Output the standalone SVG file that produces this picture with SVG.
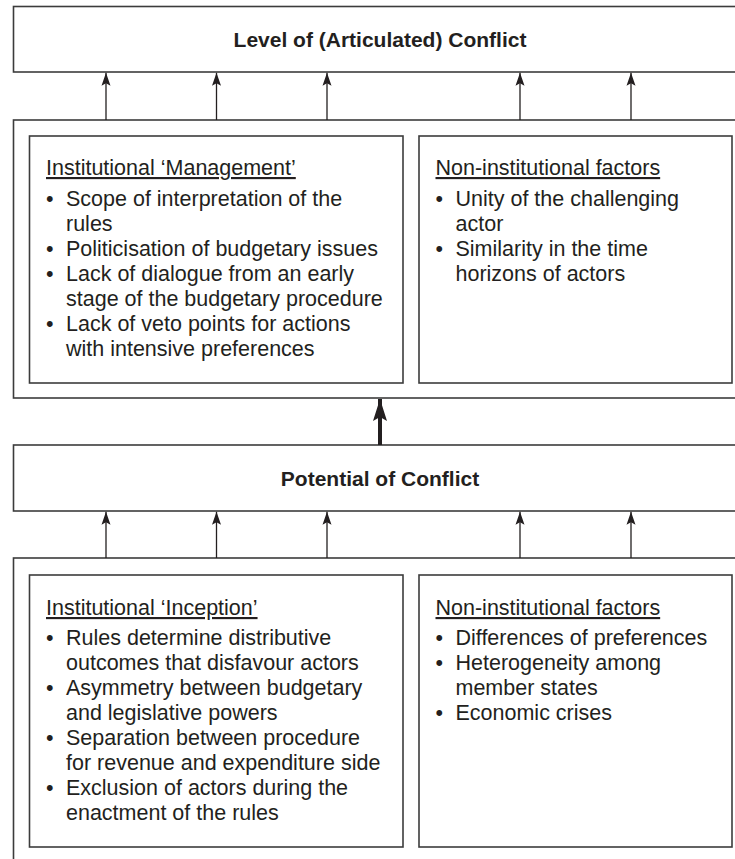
<svg xmlns="http://www.w3.org/2000/svg" width="735" height="859" viewBox="0 0 735 859">
  <style>
    .box { fill: #ffffff; stroke: #3c3c3c; stroke-width: 1.6; }
    .title { font-family: "Liberation Sans", Arial, sans-serif; font-weight: bold; font-size: 21px; fill: #231f20; text-anchor: middle; }
    .txt { font-family: "Liberation Sans", Arial, sans-serif; font-size: 21.5px; fill: #231f20; }
    .head { text-decoration: underline; }
    .link { stroke: #231f20; stroke-width: 1.3; fill: none; }
    .thick { stroke: #231f20; stroke-width: 4; fill: none; }
  </style>
  <defs>
    <marker id="arrow" markerUnits="userSpaceOnUse" viewBox="-14 -6 16 12" refX="0" refY="0" markerWidth="16" markerHeight="12" orient="auto">
      <path d="M0,0 L-13,-4.5 L-10.5,0 L-13,4.5 Z" fill="#231f20"/>
    </marker>
    <marker id="arrowBig" markerUnits="userSpaceOnUse" viewBox="-24 -9 26 18" refX="0" refY="0" markerWidth="26" markerHeight="18" orient="auto">
      <path d="M0,0 L-22,-7 L-18,0 L-22,7 Z" fill="#231f20"/>
    </marker>
  </defs>

  <rect width="735" height="859" fill="#ffffff"/>

  <!-- outcome box -->
  <g id="level-of-conflict">
    <rect class="box" x="13.5" y="6.5" width="740" height="65.5"/>
    <text class="title" x="380" y="47">Level of (Articulated) Conflict</text>
  </g>

  <!-- upper factor panel -->
  <g id="management-panel">
    <rect class="box" x="13.5" y="120" width="740" height="278"/>
  </g>
  <g id="institutional-management">
    <rect class="box" x="29.5" y="136" width="373.5" height="247"/>
    <text class="txt head" x="46" y="175">Institutional ‘Management’</text>
    <text class="txt" y="206"><tspan x="46">•</tspan><tspan x="66">Scope of interpretation of the</tspan></text>
    <text class="txt" x="66" y="231">rules</text>
    <text class="txt" y="256"><tspan x="46">•</tspan><tspan x="66">Politicisation of budgetary issues</tspan></text>
    <text class="txt" y="281"><tspan x="46">•</tspan><tspan x="66">Lack of dialogue from an early</tspan></text>
    <text class="txt" x="66" y="306">stage of the budgetary procedure</text>
    <text class="txt" y="331"><tspan x="46">•</tspan><tspan x="66">Lack of veto points for actions</tspan></text>
    <text class="txt" x="66" y="356">with intensive preferences</text>
  </g>
  <g id="non-institutional-upper">
    <rect class="box" x="419" y="136" width="313" height="247"/>
    <text class="txt head" x="435.5" y="175">Non-institutional factors</text>
    <text class="txt" y="206"><tspan x="435.5">•</tspan><tspan x="455.5">Unity of the challenging</tspan></text>
    <text class="txt" x="455.5" y="231">actor</text>
    <text class="txt" y="256"><tspan x="435.5">•</tspan><tspan x="455.5">Similarity in the time</tspan></text>
    <text class="txt" x="455.5" y="281">horizons of actors</text>
  </g>

  <!-- potential box -->
  <g id="potential-of-conflict">
    <rect class="box" x="13.5" y="445" width="740" height="66"/>
    <text class="title" x="380" y="486">Potential of Conflict</text>
  </g>

  <!-- lower factor panel -->
  <g id="inception-panel">
    <rect class="box" x="13.5" y="558" width="740" height="320"/>
  </g>
  <g id="institutional-inception">
    <rect class="box" x="29.5" y="575" width="373.5" height="272"/>
    <text class="txt head" x="46" y="615">Institutional ‘Inception’</text>
    <text class="txt" y="645"><tspan x="46">•</tspan><tspan x="66">Rules determine distributive</tspan></text>
    <text class="txt" x="66" y="670">outcomes that disfavour actors</text>
    <text class="txt" y="695"><tspan x="46">•</tspan><tspan x="66">Asymmetry between budgetary</tspan></text>
    <text class="txt" x="66" y="720">and legislative powers</text>
    <text class="txt" y="745"><tspan x="46">•</tspan><tspan x="66">Separation between procedure</tspan></text>
    <text class="txt" x="66" y="770">for revenue and expenditure side</text>
    <text class="txt" y="795"><tspan x="46">•</tspan><tspan x="66">Exclusion of actors during the</tspan></text>
    <text class="txt" x="66" y="820">enactment of the rules</text>
  </g>
  <g id="non-institutional-lower">
    <rect class="box" x="419" y="575" width="313" height="272"/>
    <text class="txt head" x="435.5" y="615">Non-institutional factors</text>
    <text class="txt" y="645"><tspan x="435.5">•</tspan><tspan x="455.5">Differences of preferences</tspan></text>
    <text class="txt" y="670"><tspan x="435.5">•</tspan><tspan x="455.5">Heterogeneity among</tspan></text>
    <text class="txt" x="455.5" y="695">member states</text>
    <text class="txt" y="720"><tspan x="435.5">•</tspan><tspan x="455.5">Economic crises</tspan></text>
  </g>

  <!-- connectors -->
  <g id="connectors">
    <line class="link" x1="106" y1="120" x2="106" y2="72.8" marker-end="url(#arrow)"/>
    <line class="link" x1="216.5" y1="120" x2="216.5" y2="72.8" marker-end="url(#arrow)"/>
    <line class="link" x1="327" y1="120" x2="327" y2="72.8" marker-end="url(#arrow)"/>
    <line class="link" x1="520" y1="120" x2="520" y2="72.8" marker-end="url(#arrow)"/>
    <line class="link" x1="631" y1="120" x2="631" y2="72.8" marker-end="url(#arrow)"/>

    <line class="thick" x1="380" y1="445" x2="380" y2="399" marker-end="url(#arrowBig)"/>

    <line class="link" x1="106" y1="558" x2="106" y2="511.8" marker-end="url(#arrow)"/>
    <line class="link" x1="216.5" y1="558" x2="216.5" y2="511.8" marker-end="url(#arrow)"/>
    <line class="link" x1="327" y1="558" x2="327" y2="511.8" marker-end="url(#arrow)"/>
    <line class="link" x1="520" y1="558" x2="520" y2="511.8" marker-end="url(#arrow)"/>
    <line class="link" x1="631" y1="558" x2="631" y2="511.8" marker-end="url(#arrow)"/>
  </g>
</svg>
